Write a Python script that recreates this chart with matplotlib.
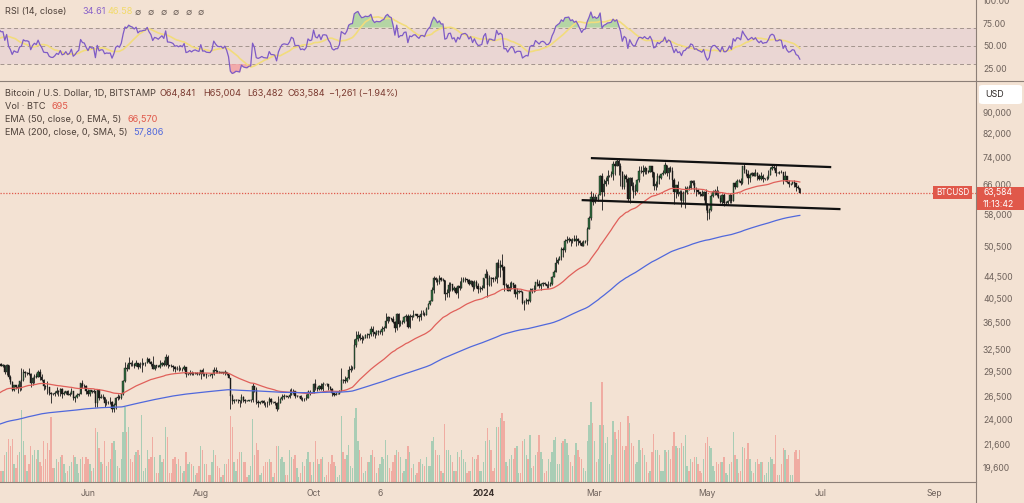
import numpy as np
import pandas as pd
import matplotlib
matplotlib.use("Agg")
import matplotlib.pyplot as plt
from matplotlib.lines import Line2D
from matplotlib.patches import Rectangle, FancyBboxPatch

plt.rcParams['font.family'] = ['Inter', 'DejaVu Sans']

# ---------------- data (daily BITSTAMP BTCUSD) ----------------
start_date = '2023-04-14'
warmup_closes = [27400, 26970, 28040, 27770, 28170, 27300, 28330, 27490, 27490, 27990, 27140, 27270, 28350, 28030,
                 28480, 28450, 28200, 27800, 28170, 28170, 28040, 27920, 27950, 28330, 29650, 30230, 29880, 30390]

close = [
    30480, 30310, 30320, 29450, 30400, 28820, 28250, 27280, 27820, 27600, 27520, 28300, 28420, 29480, 29320, 29340, 29250,
    28070, 28670, 29030, 28850, 29530, 28900, 28450, 27700, 27630, 27620, 26990, 26800, 26780, 26930, 27170, 27030, 27400, 26830, 26890, 27120, 26750, 26850, 27220, 26330, 26480, 26720, 26870, 28080, 27750, 27700, 27220,
    26820, 27250, 27070, 27120, 25750, 27240, 26350, 26500, 26480, 25850, 25940, 25900, 25920, 25120, 25580, 26330, 26510, 26340, 26840, 28310, 30000, 29890, 30690, 30550, 30470, 30270, 30690, 30080, 30450, 30470,
    30590, 30620, 31160, 30770, 30510, 29900, 30350, 30290, 30170, 30410, 30620, 30390, 31480, 30320, 30300, 30250, 30150, 29860, 29910, 29800, 29910, 29800, 30090, 29180, 29230, 29350, 29210, 29320, 29360, 29280, 29230,
    29700, 29170, 29180, 29070, 29050, 29040, 29180, 29770, 29580, 29430, 29400, 29420, 29300, 29420, 29170, 28700, 26630, 26050, 26100, 26190, 26120, 26040, 26430, 26160, 26050, 26010, 26090, 26100, 27720, 27300, 25930,
    25800, 25870, 25970, 25810, 25780, 25750, 26240, 25900, 25900, 25840, 25160, 25840, 26230, 26530, 26600, 26570, 26530, 26760, 27210, 27130, 26570, 26580, 26580, 26250, 26300, 26220, 26370, 27030, 26910, 26970,
    27990, 27510, 27430, 27800, 27420, 27950, 27970, 27940, 27600, 27390, 26880, 26760, 26860, 26860, 27160, 28520, 28420, 28330, 28720, 29680, 29920, 29990, 33090, 33900, 34500, 34160, 33910, 34090, 34540, 34500, 34670,
    35440, 34940, 34730, 35080, 35050, 35050, 35420, 35620, 36700, 37310, 37130, 37070, 36490, 35540, 37880, 36160, 36600, 36580, 37380, 37470, 35810, 37420, 37290, 37720, 37790, 37480, 37250, 37830, 37860, 37710,
    38690, 39460, 39970, 41980, 44080, 43750, 43290, 44170, 43710, 43790, 41240, 41450, 42890, 43020, 41930, 42240, 41360, 42650, 42270, 43660, 43870, 43990, 43740, 43020, 43610, 42520, 43440, 42580, 42070, 42140, 42280,
    44180, 44950, 42850, 44180, 44160, 43970, 43930, 46970, 46120, 46660, 46340, 42780, 42840, 41730, 42510, 43150, 42740, 41260, 41620, 41660, 41580, 39570, 39850, 40080, 39930, 41820, 42120, 42030, 43300, 42940, 42570,
    43080, 43190, 43000, 42580, 42660, 43090, 44340, 45300, 47150, 47770, 48290, 49960, 49740, 51830, 51940, 52160, 51660, 52120, 51780, 52280, 51840, 51300, 50730, 51570, 51730, 54500, 57070, 62500, 61200,
    62430, 62050, 63150, 68300, 63800, 66100, 66900, 68300, 68500, 69000, 72100, 71480, 73080, 71400, 69500, 65300, 68400, 67600, 62000, 67900, 65500, 63800, 64000, 67200, 69900, 69980, 69450, 70750, 69900, 69650, 71300,
    69650, 65500, 65970, 68500, 67840, 68900, 69360, 71620, 69130, 70630, 70000, 67100, 63900, 65700, 63400, 63800, 61300, 63500, 63800, 64950, 64930, 66800, 66400, 64300, 64500, 63750, 63420, 62880, 63840, 60610,
    58250, 59120, 62890, 63890, 64030, 63160, 62330, 61190, 63050, 60790, 60800, 61460, 62900, 61550, 66270, 65230, 67050, 66940, 66280, 71450, 70140, 69120, 67930, 68540, 69290, 68500, 69400, 68300, 67600, 68350, 67500,
    67770, 67780, 68810, 70550, 71080, 70790, 69340, 69310, 69650, 69510, 67320, 68240, 66760, 66010, 66190, 66640, 66490, 65140, 64841, 63584,
]
high = [
    31000, 30600, 30550, 30320, 30490, 30420, 29120, 28400, 27880, 27830, 28000, 28400, 30020, 29880, 29580, 29440, 29970,
    29330, 28880, 29270, 29370, 29680, 29830, 29170, 28650, 27820, 28320, 27640, 27070, 26980, 27180, 27670, 27270, 27480, 27470, 27180, 27150, 27280, 27050, 27480, 27220, 26610, 26930, 26940, 28170, 28440, 28020, 27830,
    27350, 27300, 27330, 27420, 27130, 27340, 27370, 26800, 26780, 26520, 26220, 26070, 26440, 26080, 25750, 26480, 26770, 26680, 26970, 28420, 30770, 30500, 31400, 30800, 31030, 30650, 31000, 30700, 30830, 31270,
    30660, 30780, 31380, 31330, 30880, 31510, 30440, 30380, 30440, 31040, 30800, 30980, 31820, 31640, 30400, 30450, 30340, 30240, 30190, 30410, 30060, 29990, 30340, 30100, 29380, 29690, 29570, 29530, 29420, 29460, 29520,
    29740, 30050, 29410, 29320, 29120, 29180, 29250, 30180, 30130, 29700, 29550, 29460, 29460, 29670, 29460, 29220, 28770, 26800, 26260, 26290, 26260, 26120, 26800, 26540, 26290, 26090, 26170, 26210, 28140, 27780, 27580,
    26130, 25960, 26130, 26090, 25860, 26020, 26430, 26400, 25940, 25980, 25880, 26540, 26400, 26820, 26840, 26660, 26620, 27410, 27480, 27380, 27160, 26740, 26630, 26730, 26420, 26390, 26830, 27300, 27230, 27080,
    28060, 28600, 27690, 27850, 28130, 28260, 28010, 28090, 27980, 27720, 27480, 26830, 27080, 26970, 27280, 30000, 28610, 28960, 28900, 30220, 30340, 30230, 33980, 35200, 35100, 34830, 34480, 34470, 34760, 34860, 34720,
    35860, 35970, 34940, 35280, 35350, 35300, 35880, 35950, 37950, 37520, 37400, 37220, 37420, 36770, 37980, 37940, 36860, 36850, 37530, 37780, 37860, 37870, 37670, 38400, 37890, 37840, 37580, 38390, 38420, 38170,
    38970, 39690, 40190, 42400, 44460, 44280, 44060, 44720, 44360, 44040, 43800, 42070, 43410, 43400, 43060, 42700, 42400, 42740, 43480, 44280, 44230, 44370, 43980, 43950, 43810, 43620, 43670, 43800, 43120, 42600, 42890,
    44180, 45900, 45500, 44750, 44350, 44240, 44490, 47220, 47890, 47700, 49000, 46500, 43250, 43080, 43400, 43570, 43200, 42930, 42200, 41880, 41860, 41680, 40130, 40550, 40290, 42200, 42210, 42820, 43320, 43850, 43740,
    43270, 43460, 43360, 43100, 43500, 43400, 44500, 45600, 48200, 48150, 48580, 50350, 50360, 52080, 52830, 52580, 52180, 52440, 52980, 53000, 52380, 52020, 51680, 51960, 51950, 54910, 57580, 64000, 63650,
    63200, 62600, 63230, 68580, 69170, 67650, 67980, 70080, 68680, 70000, 72800, 72930, 73650, 73800, 72400, 70000, 68850, 68900, 68100, 68100, 68200, 66600, 65950, 67600, 71500, 71500, 71700, 71500, 70900, 70300, 71350,
    71300, 69650, 66900, 69250, 68700, 69000, 70300, 72750, 71750, 71150, 71250, 71200, 67900, 65800, 66900, 64400, 64400, 64200, 65400, 65400, 65700, 67200, 67200, 67100, 65300, 64800, 63900, 64300, 64200, 64700,
    60800, 59600, 63300, 64500, 64600, 65500, 64400, 63000, 63400, 63500, 61400, 61800, 63450, 63100, 66450, 66700, 67400, 67450, 67700, 71500, 71900, 70600, 70100, 69200, 69600, 69500, 70600, 69600, 68900, 69500, 69000,
    67850, 68400, 70200, 71000, 71700, 71600, 71950, 69600, 69900, 70100, 69550, 70000, 68400, 67300, 66400, 66950, 67200, 66500, 65700, 65004,
]
low = [
    29900, 30230, 30120, 29270, 29120, 28600, 28010, 27130, 27150, 27350, 26960, 27200, 27250, 28400, 28890, 29100, 29080,
    27680, 27880, 28140, 28700, 28810, 28420, 28400, 27300, 27380, 26820, 26760, 25800, 26690, 26600, 26780, 26600, 26560, 26400, 26650, 26830, 26700, 26540, 26830, 26100, 25890, 26340, 26610, 26860, 27560, 27550, 26850,
    26620, 26560, 26940, 26950, 25400, 25390, 26150, 26320, 26300, 25400, 25610, 25660, 25720, 24840, 24780, 25180, 26180, 26280, 26250, 26650, 28270, 29570, 29820, 30270, 30300, 29940, 30220, 29880, 30050, 29500,
    30320, 30220, 30580, 30650, 30220, 29840, 29710, 30040, 30080, 29950, 30290, 30230, 30260, 29950, 30250, 30120, 29660, 29520, 29770, 29600, 29740, 29650, 29750, 28880, 29050, 29120, 29100, 29140, 29260, 29050, 29120,
    28590, 28950, 28970, 28760, 28940, 28970, 28720, 29130, 29400, 29330, 29330, 29350, 29270, 29090, 29050, 28700, 25170, 25640, 25800, 25970, 25810, 25350, 25790, 25860, 25770, 25980, 25980, 25870, 25920, 27060, 25700,
    25350, 25730, 25800, 25600, 25400, 25350, 25620, 25650, 25810, 25610, 24900, 25140, 25760, 26130, 26230, 26480, 26410, 26380, 26680, 26860, 26370, 26520, 26500, 26130, 25990, 26080, 26110, 26340, 26660, 26880,
    26940, 27330, 27200, 27230, 27340, 27180, 27860, 27710, 27300, 27290, 26560, 26560, 26700, 26820, 26830, 27140, 28110, 28170, 28180, 28630, 29480, 29690, 29880, 32830, 33720, 33770, 33400, 33880, 34070, 34100, 34080,
    34340, 34460, 34120, 34600, 34560, 34770, 34550, 35120, 35560, 36340, 36750, 36790, 36360, 34970, 35370, 35700, 35890, 36200, 36400, 36740, 35650, 35670, 36890, 37280, 37600, 37170, 36720, 36900, 37630, 37500,
    37620, 38650, 39290, 39980, 41430, 43350, 42830, 43020, 43600, 43590, 40230, 40700, 40620, 41800, 41700, 41700, 41250, 40530, 41870, 42220, 43300, 43420, 43340, 42780, 42750, 41650, 42120, 42330, 41310, 41540, 41990,
    42200, 44200, 40750, 42640, 42600, 43420, 43600, 43210, 44350, 44340, 45600, 41700, 42450, 41720, 41730, 42050, 42200, 40680, 40280, 41450, 41490, 39460, 38500, 39470, 39510, 39830, 41400, 41640, 41780, 42690, 42300,
    41890, 42590, 42880, 42340, 42280, 42580, 42760, 44320, 45250, 46880, 47700, 47700, 48360, 49300, 51320, 51600, 50640, 51370, 51690, 50630, 50820, 50950, 50550, 50570, 51300, 50920, 54420, 56700, 60400,
    60800, 61650, 61350, 62900, 59050, 62850, 65570, 66160, 67950, 68230, 67230, 68780, 71360, 68600, 65600, 64800, 64550, 66600, 61550, 60800, 64500, 62260, 63000, 63800, 66600, 69300, 68400, 68900, 69100, 69300, 69600,
    68200, 64500, 64500, 65100, 66000, 67460, 68750, 69050, 68250, 67500, 69550, 65100, 60600, 62300, 62800, 61800, 59800, 60800, 59600, 63200, 64300, 64550, 65800, 63900, 62800, 63300, 62800, 62800, 61800, 59200,
    56550, 56950, 58800, 62600, 62900, 62700, 62300, 60900, 60700, 60200, 60500, 60650, 60800, 60800, 61350, 64650, 65100, 66600, 65900, 66150, 69200, 68500, 66100, 66700, 68500, 68400, 68300, 67300, 67100, 67200, 66700,
    67300, 67300, 67600, 68600, 70200, 70200, 68500, 69200, 69100, 69200, 66100, 66900, 66300, 65100, 65900, 66050, 65200, 64100, 64700, 63482,
]
volume = [
    800, 250, 250, 600, 650, 950, 800, 950, 400, 300, 600, 650, 1580, 900, 600, 250, 400,
    800, 600, 700, 500, 700, 450, 350, 900, 500, 850, 700, 1430, 300, 300, 500, 450, 550, 600, 400, 200, 250, 350, 450, 600, 550, 400, 200, 500, 550, 400, 550,
    500, 400, 250, 300, 1190, 1100, 750, 450, 400, 900, 350, 450, 500, 850, 900, 700, 350, 300, 500, 1100, 1650, 1100, 1200, 500, 450, 600, 650, 700, 600, 1470,
    250, 300, 700, 500, 550, 1000, 550, 200, 200, 600, 450, 500, 1200, 1000, 200, 200, 500, 550, 400, 500, 350, 200, 250, 650, 400, 450, 400, 350, 150, 200, 350,
    800, 700, 400, 400, 150, 150, 450, 700, 600, 350, 300, 100, 150, 400, 400, 500, 1450, 1200, 450, 250, 500, 650, 650, 450, 450, 100, 150, 350, 1380, 600, 860,
    700, 150, 200, 350, 450, 450, 500, 450, 100, 200, 800, 800, 500, 550, 450, 150, 150, 700, 550, 500, 600, 300, 100, 200, 450, 350, 500, 650, 450, 150,
    450, 900, 500, 400, 500, 550, 100, 150, 450, 400, 600, 450, 350, 100, 150, 1460, 650, 500, 600, 820, 350, 300, 1400, 1630, 900, 700, 550, 200, 250, 450, 450,
    600, 700, 550, 200, 300, 400, 550, 500, 920, 600, 300, 250, 450, 600, 700, 650, 550, 200, 250, 500, 800, 650, 300, 400, 150, 200, 450, 500, 400, 350,
    550, 350, 350, 900, 1000, 700, 600, 600, 250, 200, 1280, 700, 700, 600, 450, 250, 250, 650, 550, 700, 500, 450, 200, 250, 250, 550, 500, 500, 600, 250, 250,
    450, 900, 1190, 920, 700, 250, 300, 1210, 1200, 1400, 1520, 1350, 450, 350, 500, 600, 500, 750, 800, 200, 200, 900, 950, 600, 500, 1040, 300, 350, 600, 650, 1030,
    650, 500, 200, 250, 500, 450, 650, 920, 1000, 400, 400, 850, 900, 950, 850, 600, 450, 350, 600, 850, 700, 550, 500, 300, 250, 900, 1250, 1770, 1300,
    900, 450, 500, 1250, 2200, 1250, 850, 1000, 400, 600, 1340, 1100, 950, 1150, 1320, 800, 700, 800, 1450, 1300, 850, 800, 400, 450, 920, 700, 750, 600, 450, 200, 250,
    650, 1050, 700, 700, 600, 250, 250, 700, 650, 700, 500, 800, 1100, 800, 750, 750, 850, 800, 1030, 350, 250, 500, 450, 550, 550, 400, 250, 200, 500, 850,
    1000, 800, 750, 350, 250, 450, 400, 450, 450, 550, 200, 150, 400, 450, 1100, 600, 500, 200, 250, 770, 750, 500, 850, 500, 250, 200, 450, 500, 400, 450, 450,
    150, 200, 450, 550, 500, 400, 1030, 150, 150, 400, 750, 700, 500, 600, 150, 150, 650, 700, 500, 695,
]

ema50_start = 26930     # EMA(50) value at the first visible candle
ema200_start = 23550    # EMA(200) value at the first visible candle

channel_upper_dates = ['2024-02-28', '2024-07-07']
channel_upper_prices = [73850, 71050]
channel_lower_dates = ['2024-02-23', '2024-07-12']
channel_lower_prices = [61660, 59320]

price_ticks = [19600, 21600, 24000, 26500, 29500, 32500, 36500, 40500, 44500, 50500, 58000, 66000, 74000, 82000, 90000]
rsi_ticks = [25, 50, 75, 100]
date_ticks = ['2023-06-01', '2023-08-01', '2023-10-01', '2023-11-06', '2024-01-01', '2024-03-01', '2024-05-01', '2024-07-01', '2024-09-01']
date_labels = ['Jun', 'Aug', 'Oct', '6', '2024', 'Mar', 'May', 'Jul', 'Sep']

legend_line1 = 'Bitcoin / U.S. Dollar, 1D, BITSTAMP'
ohlc_parts = ['O64,841', 'H65,004', 'L63,482', 'C63,584', '\u22121,261 (\u22121.94%)']
vol_value = '695'
ema50_value = '66,570'
ema200_value = '57,806'
rsi_value = '34.61'
rsi_ma_value = '46.58'
countdown = '11:13:42'

# ---------------- colours ----------------
BG = '#f3e2d3'
TXT = '#4d4039'
AX_TXT = '#6e625b'
SEP = '#8c7f77'
UP = '#2f6b3d'
DN = '#1e1a18'
VUP = '#a9cdb5'
VDN = '#f0aca2'
RED = '#e0584a'
BLUE = '#5068dc'
EMA_RED = '#e0605a'

W, H = 1024, 503
def fx(px): return px / W
def fy(py): return 1 - py / H

ref_day = np.datetime64('2023-06-01')
dates = np.datetime64(start_date) + np.arange(len(close))
x = (dates - ref_day).astype(int).astype(float)

c = np.array(close, float)
o = np.concatenate([[warmup_closes[-1]], c[:-1]])
h = np.array(high, float)
l = np.array(low, float)
v = np.array(volume, float)
up = c >= o

# indicators (computed from the closes, as the chart does)
def ema(series, n, start):
    out = np.empty(len(series)); out[0] = start
    a = 2.0 / (n + 1)
    for i in range(1, len(series)):
        out[i] = out[i - 1] + a * (series[i] - out[i - 1])
    return out
ema50 = ema(c, 50, ema50_start)
ema200 = ema(c, 200, ema200_start)

allc = np.array(warmup_closes + close, float)
d = np.diff(allc)
gain = np.where(d > 0, d, 0.0); loss = np.where(d < 0, -d, 0.0)
N = 14
rsi_all = np.full(len(allc), np.nan)
ag, al = gain[:N].mean(), loss[:N].mean()
rsi_all[N] = 100 - 100 / (1 + ag / al)
for i in range(N + 1, len(allc)):
    ag = (ag * (N - 1) + gain[i - 1]) / N
    al = (al * (N - 1) + loss[i - 1]) / N
    rsi_all[i] = 100 - 100 / (1 + ag / al)
rsi_ma_all = pd.Series(rsi_all).rolling(14).mean().values
k = len(warmup_closes)
rsi = rsi_all[k:]
rsi_ma = rsi_ma_all[k:]

# ---------------- figure ----------------
fig = plt.figure(figsize=(W / 100, H / 100), dpi=100, facecolor=BG)
XL = (-47.6, 480.3)

ax_rsi = fig.add_axes([0, fy(80), fx(976), 80 / H], facecolor=BG)
ax_vol = fig.add_axes([0, fy(482), fx(976), (482 - 80) / H], facecolor=BG)
ax = fig.add_axes([0, fy(482), fx(976), (482 - 80) / H], facecolor='none')
for a in (ax_rsi, ax_vol, ax):
    a.set_xlim(*XL)
    for s in a.spines.values():
        s.set_visible(False)

# volume
ax_vol.bar(x, v, width=0.72, color=np.where(up, VUP, VDN), linewidth=0)
ax_vol.set_ylim(0, 8844)
ax_vol.set_xticks([]); ax_vol.set_yticks([])

# price
ax.set_yscale('log')
ax.set_ylim(18380, 103270)
body_lo = np.minimum(o, c); body_hi = np.maximum(o, c)
ax.vlines(x, np.minimum(l, body_lo), np.maximum(h, body_hi), color='#1a1a1a', lw=0.6, zorder=3)
ax.bar(x[up], (body_hi - body_lo)[up], bottom=body_lo[up], width=0.72, color=UP, edgecolor='#1a1a1a', lw=0.3, zorder=4)
ax.bar(x[~up], (body_hi - body_lo)[~up], bottom=body_lo[~up], width=0.72, color=DN, edgecolor='#1a1a1a', lw=0.3, zorder=4)
ax.plot(x, ema50, color=EMA_RED, lw=0.9, zorder=5)
ax.plot(x, ema200, color=BLUE, lw=0.9, zorder=5)

def dayx(ds):
    return (np.array(ds, dtype='datetime64[D]') - ref_day).astype(int)
ax.plot(dayx(channel_upper_dates), channel_upper_prices, color='#111111', lw=1.6, zorder=6, solid_capstyle='butt')
ax.plot(dayx(channel_lower_dates), channel_lower_prices, color='#111111', lw=1.6, zorder=6, solid_capstyle='butt')

ax.axhline(c[-1], color=RED, lw=0.9, ls=(0, (1, 1.3)), zorder=2)

ax.yaxis.tick_right()
ax.minorticks_off()
ax.set_yticks(price_ticks)
ax.set_yticklabels([f'{t:,}' for t in price_ticks])
ax.tick_params(axis='y', length=0, pad=5, labelsize=6.2, labelcolor=AX_TXT)
ax.set_xticks(dayx(date_ticks))
ax.set_xticklabels(date_labels)
ax.tick_params(axis='x', length=0, pad=5, labelsize=6.2, labelcolor=AX_TXT)
for t in ax.get_xticklabels():
    if t.get_text() == '2024':
        t.set_fontweight('bold'); t.set_color('#3a302b')

# RSI
ax_rsi.set_ylim(11.7, 100.6)
ax_rsi.axhspan(30, 70, color='#ead6d3', zorder=0, lw=0)
for lvl in (70, 50, 30):
    ax_rsi.axhline(lvl, color='#a3948d', lw=0.7, ls=(0, (4, 3)), zorder=1)
ax_rsi.fill_between(x, rsi, 70, where=rsi >= 70, interpolate=True, color='#a9d39c', alpha=0.85, lw=0, zorder=2)
ax_rsi.fill_between(x, rsi, 30, where=rsi <= 30, interpolate=True, color='#f2a0a4', alpha=0.85, lw=0, zorder=2)
ax_rsi.plot(x, rsi_ma, color='#f2dc7c', lw=1.2, zorder=3)
ax_rsi.plot(x, rsi, color='#7e5bc6', lw=0.9, zorder=4)
ax_rsi.yaxis.tick_right()
ax_rsi.set_yticks(rsi_ticks)
ax_rsi.set_yticklabels([f'{t:.2f}' for t in rsi_ticks])
ax_rsi.tick_params(axis='y', length=0, pad=5, labelsize=6.2, labelcolor=AX_TXT)
ax_rsi.set_xticks([])

# separators
fig.add_artist(Line2D([fx(976), fx(976)], [0, 1], transform=fig.transFigure, color=SEP, lw=0.8))
fig.add_artist(Line2D([0, 1], [fy(80.5), fy(80.5)], transform=fig.transFigure, color=SEP, lw=0.8))
fig.add_artist(Line2D([0, fx(976)], [fy(482), fy(482)], transform=fig.transFigure, color=SEP, lw=0.8))

# last price labels
fig.canvas.draw()
ypx = H - ax.transData.transform((0, c[-1]))[1]
fig.add_artist(Rectangle((fx(933), fy(ypx + 6.5)), fx(972) - fx(933), 13 / H, transform=fig.transFigure, color=RED, lw=0))
fig.text(fx(952.5), fy(ypx), 'BTCUSD', color='white', fontsize=5.8, ha='center', va='center')
fig.add_artist(Rectangle((fx(976.5), fy(ypx + 17)), fx(1024) - fx(976.5), 23 / H, transform=fig.transFigure, color=RED, lw=0))
fig.text(fx(983), fy(ypx), f'{c[-1]:,.0f}', color='white', fontsize=6.2, ha='left', va='center')
fig.text(fx(983), fy(ypx + 11.5), countdown, color='white', fontsize=6.2, ha='left', va='center')

# USD box
fig.add_artist(FancyBboxPatch((fx(979), fy(104)), fx(1022) - fx(979), 19 / H, boxstyle='round,pad=0,rounding_size=0.004',
                              transform=fig.transFigure, facecolor='white', edgecolor='none'))
fig.text(fx(985), fy(94.5), 'USD', color='#2f2a28', fontsize=6.4, ha='left', va='center')

# legend texts
fs = 6.6
fig.text(fx(5), fy(12), 'RSI (14, close)', color=TXT, fontsize=fs, va='center')
fig.text(fx(82), fy(12), rsi_value, color='#8a63c9', fontsize=fs, va='center')
fig.text(fx(107), fy(12), rsi_ma_value, color='#f2da6a', fontsize=fs, va='center')
for i in range(6):
    fig.text(fx(135 + 12.6 * i), fy(12), '\u2205', color=AX_TXT, fontsize=fs, va='center')

fig.text(fx(5), fy(93.5), legend_line1, color=TXT, fontsize=fs, va='center')
for px, s in zip((160, 203, 247, 288, 329), ohlc_parts):
    fig.text(fx(px), fy(93.5), s, color='#7b3a30', fontsize=fs, va='center')
fig.text(fx(5), fy(107), 'Vol \u00b7 BTC', color=TXT, fontsize=fs, va='center')
fig.text(fx(51), fy(107), vol_value, color=RED, fontsize=fs, va='center')
fig.text(fx(5), fy(120), 'EMA (50, close, 0, EMA, 5)', color=TXT, fontsize=fs, va='center')
fig.text(fx(127), fy(120), ema50_value, color=RED, fontsize=fs, va='center')
fig.text(fx(5), fy(133), 'EMA (200, close, 0, SMA, 5)', color=TXT, fontsize=fs, va='center')
fig.text(fx(133), fy(133), ema200_value, color=BLUE, fontsize=fs, va='center')

fig.savefig('out.png', dpi=100, facecolor=BG)
